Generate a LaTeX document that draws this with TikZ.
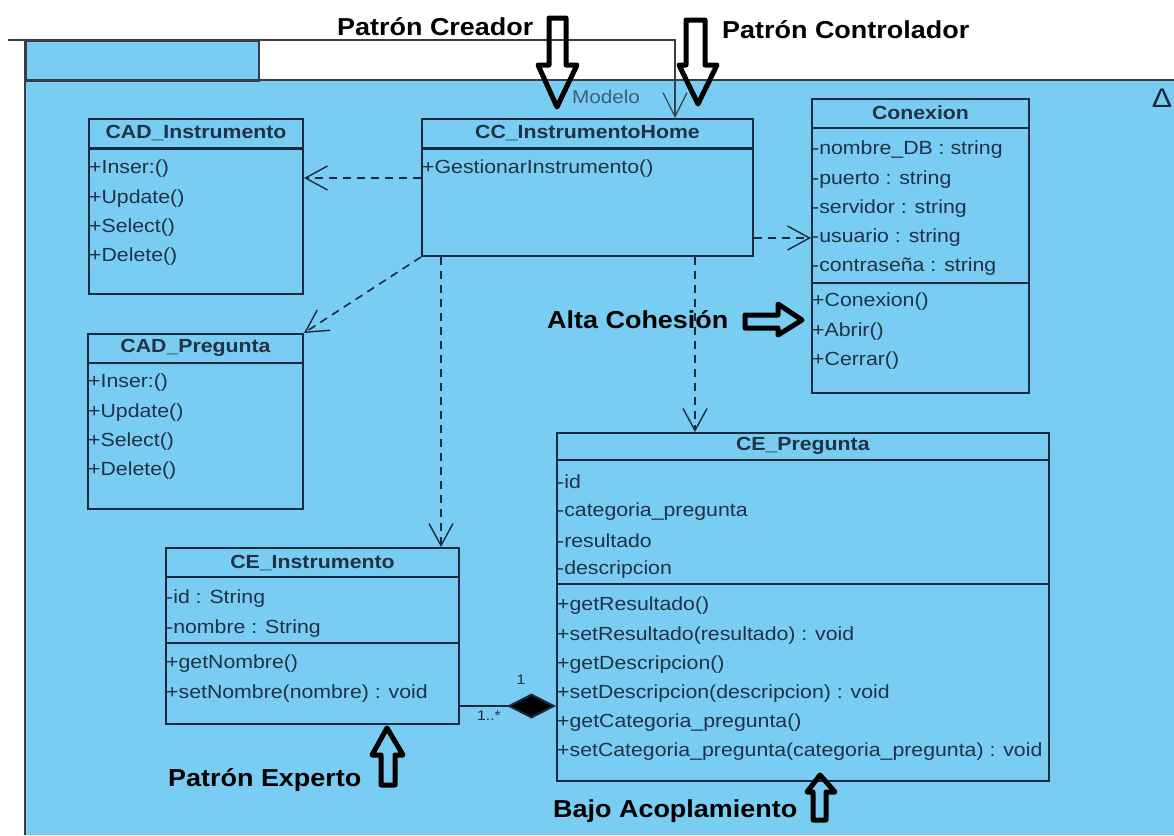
\documentclass[tikz,border=0pt]{standalone}
\usepackage{fontspec}
\setmainfont{Liberation Sans}[FakeStretch=1.12]
\newfontfamily\notefont{Liberation Sans}[FakeStretch=1.10]
\usetikzlibrary{arrows.meta}

\definecolor{pkgblue}{RGB}{121,205,242}
\definecolor{umlline}{RGB}{28,42,62}
\definecolor{umltext}{RGB}{32,50,70}
\definecolor{pkgline}{RGB}{55,62,70}
\definecolor{pkgname}{RGB}{62,94,124}

\tikzset{
  classbox/.style={draw=umlline, line width=2pt, inner sep=0pt, anchor=north west},
  sepline/.style={draw=umlline, line width=1.4pt},
  thicksep/.style={draw=umlline, line width=3pt},
  cname/.style={font=\fontsize{19}{19}\selectfont\bfseries, text=umltext, inner sep=0pt},
  member/.style={font=\fontsize{19}{19}\selectfont, text=umltext, inner sep=0pt, anchor=west},
  dep/.style={draw=umlline, line width=1.6pt, dash pattern=on 8pt off 6pt,
    -{Straight Barb[length=22pt,width=24pt,line width=1.4pt]}},
  extdep/.style={draw=pkgline, line width=1.2pt,
    -{Straight Barb[length=24pt,width=24pt,line width=1.2pt]}},
  compos/.style={draw=umlline, line width=2pt,
    -{Diamond[length=49pt,width=25pt,fill=black]}},
  mult/.style={font=\fontsize{14}{14}\selectfont, text=umltext, inner sep=0pt},
  callout/.style={draw=black, line width=5pt, line join=round},
  notelabel/.style={font=\notefont\fontsize{24.5}{24.5}\selectfont\bfseries, inner sep=0pt, anchor=base west},
  pkgtext/.style={font=\fontsize{18.5}{18.5}\selectfont, text=pkgname, inner sep=0pt}
}

% one member per row, 29.2 units apart
\newcommand\memberlist[4]{%
  \foreach \mtext [count=\k from 0] in {#4} {\node[member] (#1\k) at (#2,{#3+2+29.2*\k}) {\mtext};}}

\begin{document}
\begin{tikzpicture}[x=1pt,y=-1pt]
\useasboundingbox (0,0) rectangle (1174,835);
\fill[white] (0,0) rectangle (1174,835);

% package Modelo
\fill[pkgblue] (25,80) rectangle (1174,835);
\node[draw=pkgline, fill=pkgblue, line width=1.5pt, minimum width=233pt, minimum height=40pt,
      inner sep=0pt, anchor=north west] (tab) at (25,40) {};
\draw[pkgline, line width=1.5pt] (25,80) -- (1174,80);
\draw[pkgline, line width=1.5pt] (25,40) -- (25,835);
\node[pkgtext] (pkgname) at (606,97) {Modelo};
\node[font=\fontsize{27}{27}\selectfont, text=umlline, inner sep=0pt] (pkgicon) at (1162,98) {Δ};

% CAD_Instrumento
\node[classbox, minimum width=214pt, minimum height=175pt] (cadi) at (88,118) {};
\draw[thicksep] ([yshift=-30pt]cadi.north west) -- ([yshift=-30pt]cadi.north east);
\node[cname] (cadi-t) at ([yshift=-15pt]cadi.north) {CAD\_Instrumento};
\memberlist{cadi-m}{89}{167}{{+Inser:()},{+Update()},{+Select()},{+Delete()}}

% CC_InstrumentoHome
\node[classbox, minimum width=331pt, minimum height=137pt] (cc) at (421,118) {};
\draw[thicksep] ([yshift=-30pt]cc.north west) -- ([yshift=-30pt]cc.north east);
\node[cname] (cc-t) at ([yshift=-15pt]cc.north) {CC\_InstrumentoHome};
\memberlist{cc-m}{422}{167}{{+GestionarInstrumento()}}

% Conexion
\node[classbox, minimum width=217pt, minimum height=294pt] (con) at (811,98) {};
\draw[sepline] ([yshift=-30pt]con.north west) -- ([yshift=-30pt]con.north east);
\draw[sepline] ([yshift=-185pt]con.north west) -- ([yshift=-185pt]con.north east);
\node[cname] (con-t) at ([yshift=-15pt]con.north) {Conexion};
\memberlist{con-a}{812}{148}{{-nombre\_DB : string},{-puerto : string},{-servidor : string},{-usuario : string},{-contraseña : string}}
\memberlist{con-m}{812}{300}{{+Conexion()},{+Abrir()},{+Cerrar()}}

% CAD_Pregunta
\node[classbox, minimum width=215pt, minimum height=175pt] (cadp) at (87,333) {};
\draw[sepline] ([yshift=-30pt]cadp.north west) -- ([yshift=-30pt]cadp.north east);
\node[cname] (cadp-t) at ([yshift=-15pt]cadp.north) {CAD\_Pregunta};
\memberlist{cadp-m}{88}{381}{{+Inser:()},{+Update()},{+Select()},{+Delete()}}

% CE_Pregunta
\node[classbox, line width=1.6pt, minimum width=492pt, minimum height=348pt] (cep) at (556,432) {};
\draw[sepline] ([yshift=-28pt]cep.north west) -- ([yshift=-28pt]cep.north east);
\draw[sepline] ([yshift=-152pt]cep.north west) -- ([yshift=-152pt]cep.north east);
\node[cname] (cep-t) at ([yshift=-14pt]cep.north) {CE\_Pregunta};
\memberlist{cep-a}{557}{480}{{-id},{-categoria\_pregunta},{-resultado},{-descripcion}}
\memberlist{cep-m}{557}{604}{{+getResultado()},{+setResultado(resultado) : void},{+getDescripcion()},{+setDescripcion(descripcion) : void},{+getCategoria\_pregunta()},{+setCategoria\_pregunta(categoria\_pregunta) : void}}

% CE_Instrumento
\node[classbox, minimum width=293pt, minimum height=176pt] (ceins) at (165,547) {};
\draw[sepline] ([yshift=-30pt]ceins.north west) -- ([yshift=-30pt]ceins.north east);
\draw[sepline] ([yshift=-96pt]ceins.north west) -- ([yshift=-96pt]ceins.north east);
\node[cname] (ceins-t) at ([yshift=-16pt]ceins.north) {CE\_Instrumento};
\memberlist{ceins-a}{166}{597}{{-id : String},{-nombre : String}}
\memberlist{ceins-m}{166}{662}{{+getNombre()},{+setNombre(nombre) : void}}

% dependencies
\coordinate (ext) at (8,40);
\draw[extdep] (ext) -| ([xshift=254pt]cc.north west);
\draw[dep] ([yshift=9.5pt]cc.west) -- ([yshift=9.5pt]cc.west -| cadi.east);
\draw[dep] (cc.south west) -- (cadp.north east);
\draw[dep] ([xshift=20pt]cc.south west) -- ([xshift=20pt]cc.south west |- ceins.north);
\draw[dep] ([xshift=-59pt]cc.south east) -- ([xshift=-59pt]cc.south east |- cep.north);
\draw[dep] ([yshift=19pt]cc.south east) -- ([yshift=19pt]cc.south east -| con.west);

% composition
\draw[compos] ([yshift=19pt]ceins.south east) -- ([yshift=19pt]ceins.south east -| cep.west);
\node[mult] (m-one) at (521,680) {1};
\node[mult] (m-many) at (489,716) {1..*};

% pattern call-outs
\node[notelabel] (lab-creador) at (337,35) {Patrón Creador};
\draw[callout] (549,18) -- (566,18) -- (566,65) -- (577,65) -- (557,107) -- (538,65) -- (549,65) -- cycle;

\node[notelabel] (lab-control) at (722,38) {Patrón Controlador};
\draw[callout] (686,20) -- (705,20) -- (705,65) -- (717,65) -- (698,104) -- (679,65) -- (686,65) -- cycle;

\node[notelabel] (lab-cohesion) at (547,328) {Alta Cohesión};
\draw[callout] (745,315) -- (778,315) -- (778,304) -- (802,320) -- (778,335) -- (778,328) -- (745,328) -- cycle;

\node[notelabel] (lab-experto) at (168,786) {Patrón Experto};
\draw[callout] (381,785) -- (381,755) -- (372,755) -- (387,728) -- (403,755) -- (395,755) -- (395,785) -- cycle;

\node[notelabel] (lab-acopla) at (553,817) {Bajo Acoplamiento};
\draw[callout] (813,820) -- (813,792) -- (807,792) -- (820,775) -- (835,792) -- (826,792) -- (826,820) -- cycle;
\end{tikzpicture}
\end{document}
